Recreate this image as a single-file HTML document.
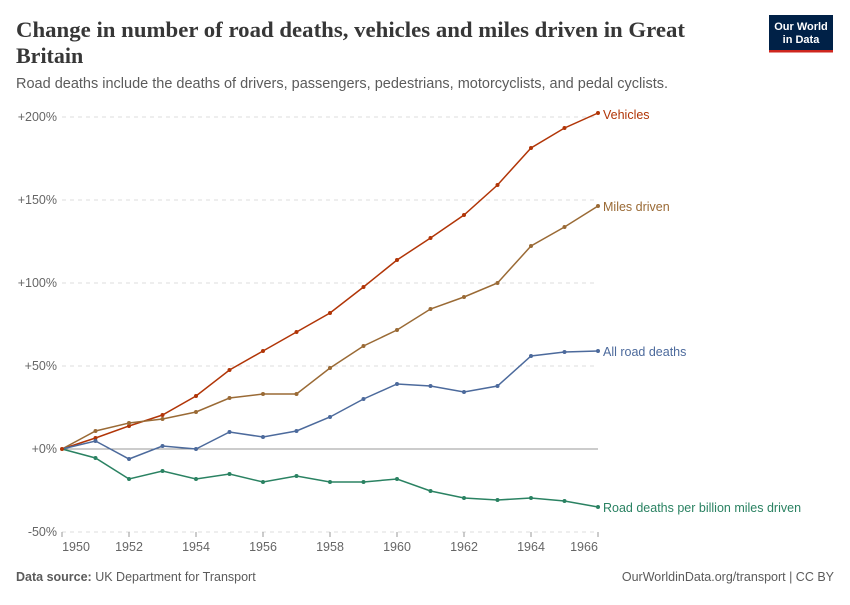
<!DOCTYPE html>
<html><head><meta charset="utf-8"><style>
body{margin:0;background:#fff;width:850px;height:600px;overflow:hidden;font-family:"Liberation Sans",sans-serif}
</style></head><body>
<svg width="850" height="600" xmlns="http://www.w3.org/2000/svg" font-family="Liberation Sans, sans-serif">
<text x="16" y="37" font-family="Liberation Serif, serif" font-size="22" font-weight="bold" fill="#373737" textLength="669" lengthAdjust="spacingAndGlyphs">Change in number of road deaths, vehicles and miles driven in Great</text>
<text x="16" y="63" font-family="Liberation Serif, serif" font-size="22" font-weight="bold" fill="#373737">Britain</text>
<text x="16" y="88" font-size="14.5" fill="#5b5b5b">Road deaths include the deaths of drivers, passengers, pedestrians, motorcyclists, and pedal cyclists.</text>
<rect x="769" y="15" width="64" height="35" fill="#002147"/>
<rect x="769" y="50" width="64" height="2.5" fill="#ce261e"/>
<text x="801" y="30" font-size="11" fill="#fff" text-anchor="middle" font-weight="bold">Our World</text>
<text x="801" y="43" font-size="11" fill="#fff" text-anchor="middle" font-weight="bold">in Data</text>
<g stroke="#ddd" stroke-dasharray="4,4">
<line x1="62" x2="598" y1="117" y2="117"/><line x1="62" x2="598" y1="200" y2="200"/><line x1="62" x2="598" y1="283" y2="283"/><line x1="62" x2="598" y1="366" y2="366"/><line x1="62" x2="598" y1="532" y2="532"/>
</g>
<line x1="62" x2="598" y1="449" y2="449" stroke="#999"/>
<g font-size="12.5" fill="#666" text-anchor="end">
<text x="57" y="121">+200%</text><text x="57" y="204">+150%</text><text x="57" y="287">+100%</text><text x="57" y="370">+50%</text><text x="57" y="453">+0%</text><text x="57" y="536">-50%</text>
</g>
<g font-size="12.5" fill="#666" text-anchor="middle">
<text x="76" y="551">1950</text><text x="129" y="551">1952</text><text x="196" y="551">1954</text><text x="263" y="551">1956</text><text x="330" y="551">1958</text><text x="397" y="551">1960</text><text x="464" y="551">1962</text><text x="531" y="551">1964</text><text x="584" y="551">1966</text>
</g>
<g stroke="#999"><line x1="62" x2="62" y1="532" y2="537"/><line x1="129" x2="129" y1="532" y2="537"/><line x1="196" x2="196" y1="532" y2="537"/><line x1="263" x2="263" y1="532" y2="537"/><line x1="330" x2="330" y1="532" y2="537"/><line x1="397" x2="397" y1="532" y2="537"/><line x1="464" x2="464" y1="532" y2="537"/><line x1="531" x2="531" y1="532" y2="537"/><line x1="598" x2="598" y1="532" y2="537"/></g>
<g fill="none" stroke-width="1.5" marker-start="url(#m)">
<polyline stroke="#b13507" points="62,449 95.5,438 129,426 162.5,415 196,396 229.5,370 263,351 296.5,332 330,313 363.5,287 397,260 430.5,238 464,215 497.5,185 531,148 564.5,128 598,113"/>
<polyline stroke="#9a6a35" points="62,449 95.5,431 129,423 162.5,419 196,412 229.5,398 263,394 296.5,394 330,368 363.5,346 397,330 430.5,309 464,297 497.5,283 531,246 564.5,227 598,206"/>
<polyline stroke="#4c6a9c" points="62,449 95.5,441 129,459 162.5,446 196,449 229.5,432 263,437 296.5,431 330,417 363.5,399 397,384 430.5,386 464,392 497.5,386 531,356 564.5,352 598,351"/>
<polyline stroke="#2a8262" points="62,449 95.5,458 129,479 162.5,471 196,479 229.5,474 263,482 296.5,476 330,482 363.5,482 397,479 430.5,491 464,498 497.5,500 531,498 564.5,501 598,507"/>
</g>
<g fill="#b13507"><circle cx="62" cy="449" r="2"/><circle cx="95.5" cy="438" r="2"/><circle cx="129" cy="426" r="2"/><circle cx="162.5" cy="415" r="2"/><circle cx="196" cy="396" r="2"/><circle cx="229.5" cy="370" r="2"/><circle cx="263" cy="351" r="2"/><circle cx="296.5" cy="332" r="2"/><circle cx="330" cy="313" r="2"/><circle cx="363.5" cy="287" r="2"/><circle cx="397" cy="260" r="2"/><circle cx="430.5" cy="238" r="2"/><circle cx="464" cy="215" r="2"/><circle cx="497.5" cy="185" r="2"/><circle cx="531" cy="148" r="2"/><circle cx="564.5" cy="128" r="2"/><circle cx="598" cy="113" r="2"/></g>
<g fill="#9a6a35"><circle cx="95.5" cy="431" r="2"/><circle cx="129" cy="423" r="2"/><circle cx="162.5" cy="419" r="2"/><circle cx="196" cy="412" r="2"/><circle cx="229.5" cy="398" r="2"/><circle cx="263" cy="394" r="2"/><circle cx="296.5" cy="394" r="2"/><circle cx="330" cy="368" r="2"/><circle cx="363.5" cy="346" r="2"/><circle cx="397" cy="330" r="2"/><circle cx="430.5" cy="309" r="2"/><circle cx="464" cy="297" r="2"/><circle cx="497.5" cy="283" r="2"/><circle cx="531" cy="246" r="2"/><circle cx="564.5" cy="227" r="2"/><circle cx="598" cy="206" r="2"/></g>
<g fill="#4c6a9c"><circle cx="95.5" cy="441" r="2"/><circle cx="129" cy="459" r="2"/><circle cx="162.5" cy="446" r="2"/><circle cx="196" cy="449" r="2"/><circle cx="229.5" cy="432" r="2"/><circle cx="263" cy="437" r="2"/><circle cx="296.5" cy="431" r="2"/><circle cx="330" cy="417" r="2"/><circle cx="363.5" cy="399" r="2"/><circle cx="397" cy="384" r="2"/><circle cx="430.5" cy="386" r="2"/><circle cx="464" cy="392" r="2"/><circle cx="497.5" cy="386" r="2"/><circle cx="531" cy="356" r="2"/><circle cx="564.5" cy="352" r="2"/><circle cx="598" cy="351" r="2"/></g>
<g fill="#2a8262"><circle cx="95.5" cy="458" r="2"/><circle cx="129" cy="479" r="2"/><circle cx="162.5" cy="471" r="2"/><circle cx="196" cy="479" r="2"/><circle cx="229.5" cy="474" r="2"/><circle cx="263" cy="482" r="2"/><circle cx="296.5" cy="476" r="2"/><circle cx="330" cy="482" r="2"/><circle cx="363.5" cy="482" r="2"/><circle cx="397" cy="479" r="2"/><circle cx="430.5" cy="491" r="2"/><circle cx="464" cy="498" r="2"/><circle cx="497.5" cy="500" r="2"/><circle cx="531" cy="498" r="2"/><circle cx="564.5" cy="501" r="2"/><circle cx="598" cy="507" r="2"/></g>
<text x="603" y="119" font-size="12.5" fill="#b13507">Vehicles</text>
<text x="603" y="211" font-size="12.5" fill="#9a6a35">Miles driven</text>
<text x="603" y="356" font-size="12.5" fill="#4c6a9c">All road deaths</text>
<text x="603" y="512" font-size="12.5" fill="#2a8262">Road deaths per billion miles driven</text>
<text x="16" y="581" font-size="12.5" fill="#5b5b5b"><tspan font-weight="bold">Data source:</tspan> UK Department for Transport</text>
<text x="834" y="581" font-size="12.5" fill="#5b5b5b" text-anchor="end">OurWorldinData.org/transport | CC BY</text>
</svg>
</body></html>
